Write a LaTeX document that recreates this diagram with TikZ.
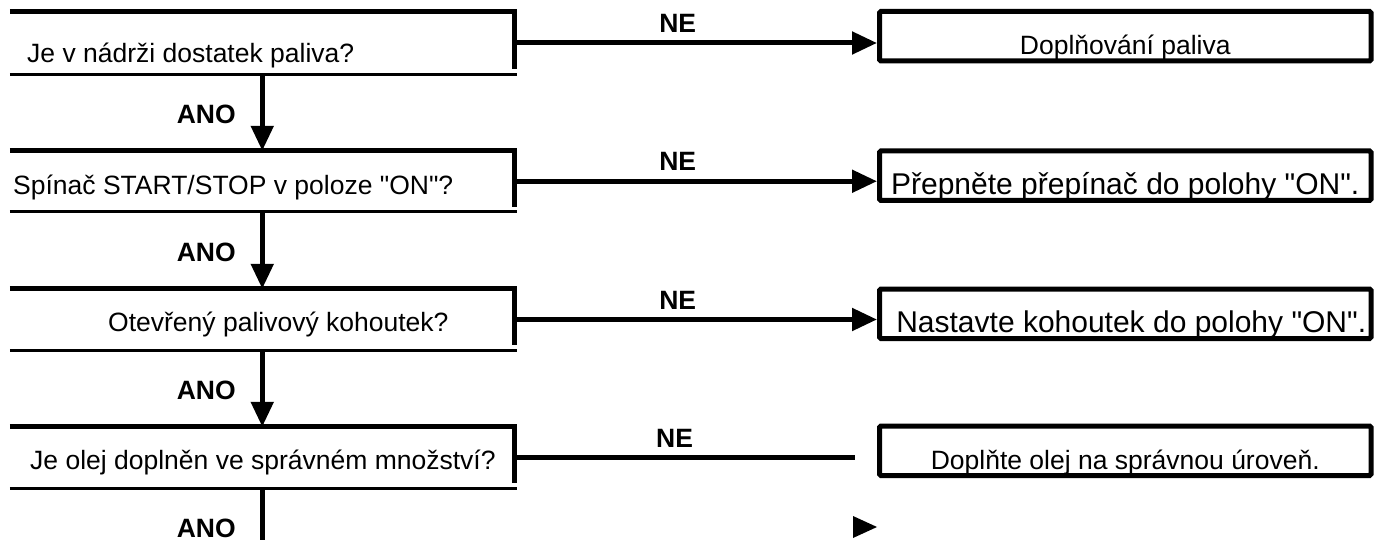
\documentclass[tikz,border=0pt]{standalone}
\usepackage{fontspec}
\setmainfont{Liberation Sans}
\usetikzlibrary{arrows.meta}
\tikzset{
  qframe/.style = {inner sep=0pt, minimum width=504.5pt,
    minimum height=61pt},% otazka, jen ramecek
  qtext/.style = {anchor=base west, inner sep=0pt,
    font=\fontsize{26.5}{30}\selectfont},
  fix/.style = {draw, line width=5pt, rounded corners=1.5pt, inner sep=0pt,
    minimum width=491.5pt, minimum height=49.5pt, text height=37.5pt,
    text depth=0pt, font=\fontsize{26.5}{30}\selectfont},% napravne opatreni
  bigfix/.style = {fix, font=\fontsize{30}{34}\selectfont},
  edgetop/.style = {line width=5pt},
  edgelow/.style = {line width=3pt},
  stem/.style = {line width=5pt},
  flow/.style = {stem, -{Triangle[length=25pt, width=22pt]}},
  anolbl/.style = {left, inner sep=0pt, xshift=-24pt,
    font=\bfseries\fontsize{26.5}{30}\selectfont},
  nelbl/.style = {above, inner sep=0pt, yshift=8pt,
    font=\bfseries\fontsize{26.5}{30}\selectfont}
}

\begin{document}
\begin{tikzpicture}[x=1pt, y=-1pt]
  \useasboundingbox (0,0) rectangle (1382,540);
  % otazky
  \node [qframe, minimum height=62pt] (q1) at (262.25,43) {};
  \node [qframe, minimum height=60.5pt] (q2) at (262.25,181.25) {};
  \node [qframe] (q3) at (262.25,319.5) {};
  \node [qframe] (q4) at (262.25,457.5) {};
  \node [qtext] (t1) at (27,63) {Je v nádrži dostatek paliva?};
  \node [qtext] (t2) at (13,195) {Spínač START/STOP v poloze \textquotedbl ON\textquotedbl?};
  \node [qtext] (t3) at (108,331) {Otevřený palivový kohoutek?};
  \node [qtext] (t4) at (30,469) {Je olej doplněn ve správném množství?};
  % opatreni
  \node [fix] (a1) at (1125.25,36.25) {Doplňování paliva};
  \node [bigfix] (a2) at (1125.25,175.75) {Přepněte přepínač do polohy \textquotedbl ON\textquotedbl.};
  \node [bigfix] (a3) at (1125.25,313.75) {\hspace{12pt}Nastavte kohoutek do polohy \textquotedbl ON\textquotedbl.};
  \node [fix] (a4) at (1125.25,450.75) {Doplňte olej na správnou úroveň.};
  \coordinate (n4) at (855,0);
  \coordinate (floor) at (0,540);
  % ramecky otazek
  \draw [edgetop] (q1.north west) -- ([xshift=2.5pt]q1.north east);
  \draw [edgelow] (q1.south west) -- ([xshift=2.5pt]q1.south east);
  \draw [edgetop] (q1.north east) -- ([yshift=5pt]q1.south east);
  \draw [edgetop] (q2.north west) -- ([xshift=2.5pt]q2.north east);
  \draw [edgelow] (q2.south west) -- ([xshift=2.5pt]q2.south east);
  \draw [edgetop] (q2.north east) -- ([yshift=5pt]q2.south east);
  \draw [edgetop] (q3.north west) -- ([xshift=2.5pt]q3.north east);
  \draw [edgelow] (q3.south west) -- ([xshift=2.5pt]q3.south east);
  \draw [edgetop] (q3.north east) -- ([yshift=5pt]q3.south east);
  \draw [edgetop] (q4.north west) -- ([xshift=2.5pt]q4.north east);
  \draw [edgelow] (q4.south west) -- ([xshift=2.5pt]q4.south east);
  \draw [edgetop] (q4.north east) -- ([yshift=5pt]q4.south east);
  % ANO
  \draw [flow] (q1.south) -- node [anolbl, pos=0.53] {ANO} (q2.north);
  \draw [flow] (q2.south) -- node [anolbl, pos=0.53] {ANO} (q3.north);
  \draw [flow] (q3.south) -- node [anolbl, pos=0.53] {ANO} (q4.north);
  \draw [stem] (q4.south) -- node [anolbl, pos=0.77] {ANO} (q4.south |- floor);
  % NE
  \draw [flow] (q1.east) -- node [nelbl, pos=0.45] {NE} (q1.east -| a1.west);
  \draw [flow] (q2.east) -- node [nelbl, pos=0.45] {NE} (q2.east -| a2.west);
  \draw [flow] (q3.east) -- node [nelbl, pos=0.45] {NE} (q3.east -| a3.west);
  \draw [stem] (q4.east) -- node [nelbl, pos=0.47] {NE} (q4.east -| n4);
  \fill (853,516) -- (877,527) -- (853,538) -- cycle;
\end{tikzpicture}
\end{document}
